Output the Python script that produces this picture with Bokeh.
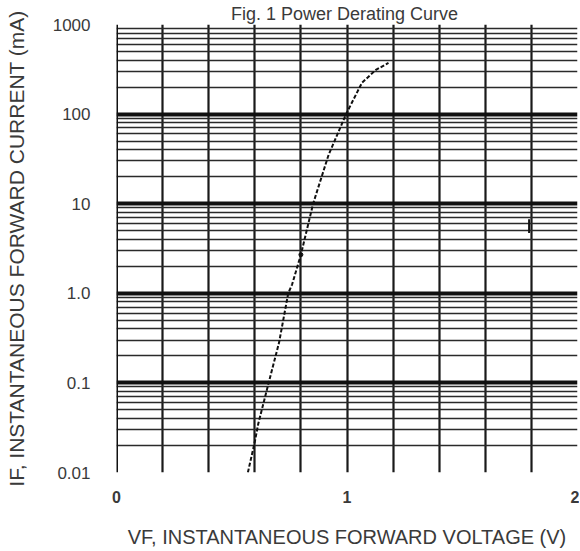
from bokeh.plotting import figure
from bokeh.models import FixedTicker, CustomJSTickFormatter, Range1d
from bokeh.embed import file_html
from bokeh.resources import INLINE

# ---- data ----
vf = [0.57, 0.60, 0.615, 0.66, 0.705, 0.745, 0.762, 0.80, 0.853, 0.92, 0.996, 1.065, 1.125, 1.18]
i_f = [0.01, 0.022, 0.035, 0.1, 0.28, 1.0, 1.26, 2.7, 10, 35, 100, 224, 311, 373]
dot_v = [0.80]
dot_i = [2.7]
stray_v = [1.79, 1.79]
stray_i = [4.7, 6.7]
x_ticks = [0, 1, 2]
x_grid = [0.2 * k for k in range(11)]
y_ticks = [0.01, 0.1, 1, 10, 100, 1000]
y_tick_labels = ["0.01", "0.1", "1.0", "10", "100", "1000"]
y_minor = [m * d for d in [0.01, 0.1, 1, 10, 100] for m in range(2, 10)]

FONT = "Liberation Sans"
TXT = "#3a3a3a"

p = figure(width=579, height=550, x_axis_type="linear", y_axis_type="log",
           x_range=Range1d(0, 2), y_range=Range1d(0.01, 1000),
           output_backend="svg", toolbar_location=None,
           title="Fig. 1  Power Derating Curve",
           min_border_left=116, min_border_right=2, min_border_top=23, min_border_bottom=74)
p.outline_line_color = None
p.background_fill_color = "white"

p.title.align = "center"
p.title.text_font = FONT
p.title.text_font_size = "18px"
p.title.text_font_style = "normal"
p.title.text_color = TXT
p.title.standoff = 2
p.title.offset = 0

# grids
p.xgrid.ticker = FixedTicker(ticks=x_grid)
p.xgrid.grid_line_color = "#1a1a1a"
p.xgrid.grid_line_width = 2.2
p.ygrid.ticker = FixedTicker(ticks=y_ticks, minor_ticks=y_minor)
p.ygrid.grid_line_color = "#111111"
p.ygrid.grid_line_width = 4
p.ygrid.minor_grid_line_color = "#2a2a2a"
p.ygrid.minor_grid_line_width = 1.6

# axes
p.xaxis.ticker = FixedTicker(ticks=x_ticks)
p.yaxis.ticker = FixedTicker(ticks=y_ticks, minor_ticks=[])
labels_js = "{" + ",".join('"%s":"%s"' % (repr(float(t)), l) for t, l in zip(y_ticks, y_tick_labels)) + "}"
p.yaxis.formatter = CustomJSTickFormatter(code="""
const m = %s;
for (const key in m) { if (Math.abs(Number(key) - tick) < 1e-9 * Math.max(1, tick)) return m[key]; }
return String(tick);
""" % labels_js)
for ax in (p.xaxis[0], p.yaxis[0]):
    ax.axis_line_color = None
    ax.major_tick_line_color = None
    ax.minor_tick_line_color = None
    ax.major_label_text_font = FONT
    ax.major_label_text_color = TXT
    ax.axis_label_text_font = FONT
    ax.axis_label_text_color = TXT
    ax.axis_label_text_font_style = "normal"
p.xaxis.major_label_text_font_size = "16px"
p.xaxis.major_label_text_font_style = "bold"
p.xaxis.major_label_standoff = 12
p.yaxis.major_label_text_font_size = "17px"
p.yaxis.major_label_standoff = 20
p.xaxis.axis_label = "VF, INSTANTANEOUS FORWARD VOLTAGE (V)"
p.xaxis.axis_label_text_font_size = "20px"
p.xaxis.axis_label_standoff = 20
p.yaxis.axis_label = "IF, INSTANTANEOUS FORWARD CURRENT (mA)"
p.yaxis.axis_label_text_font_size = "21px"
p.yaxis.axis_label_standoff = 22

# frame left line
p.line([0, 0], [0.01, 1000], line_color="#111111", line_width=3)

# curve
p.line(vf, i_f, line_color="#111111", line_width=2, line_dash="4 2")
p.scatter(dot_v, dot_i, size=4, color="#111111")
p.line(stray_v, stray_i, line_color="#111111", line_width=2)

open("out.html", "w").write(file_html(p, INLINE))
